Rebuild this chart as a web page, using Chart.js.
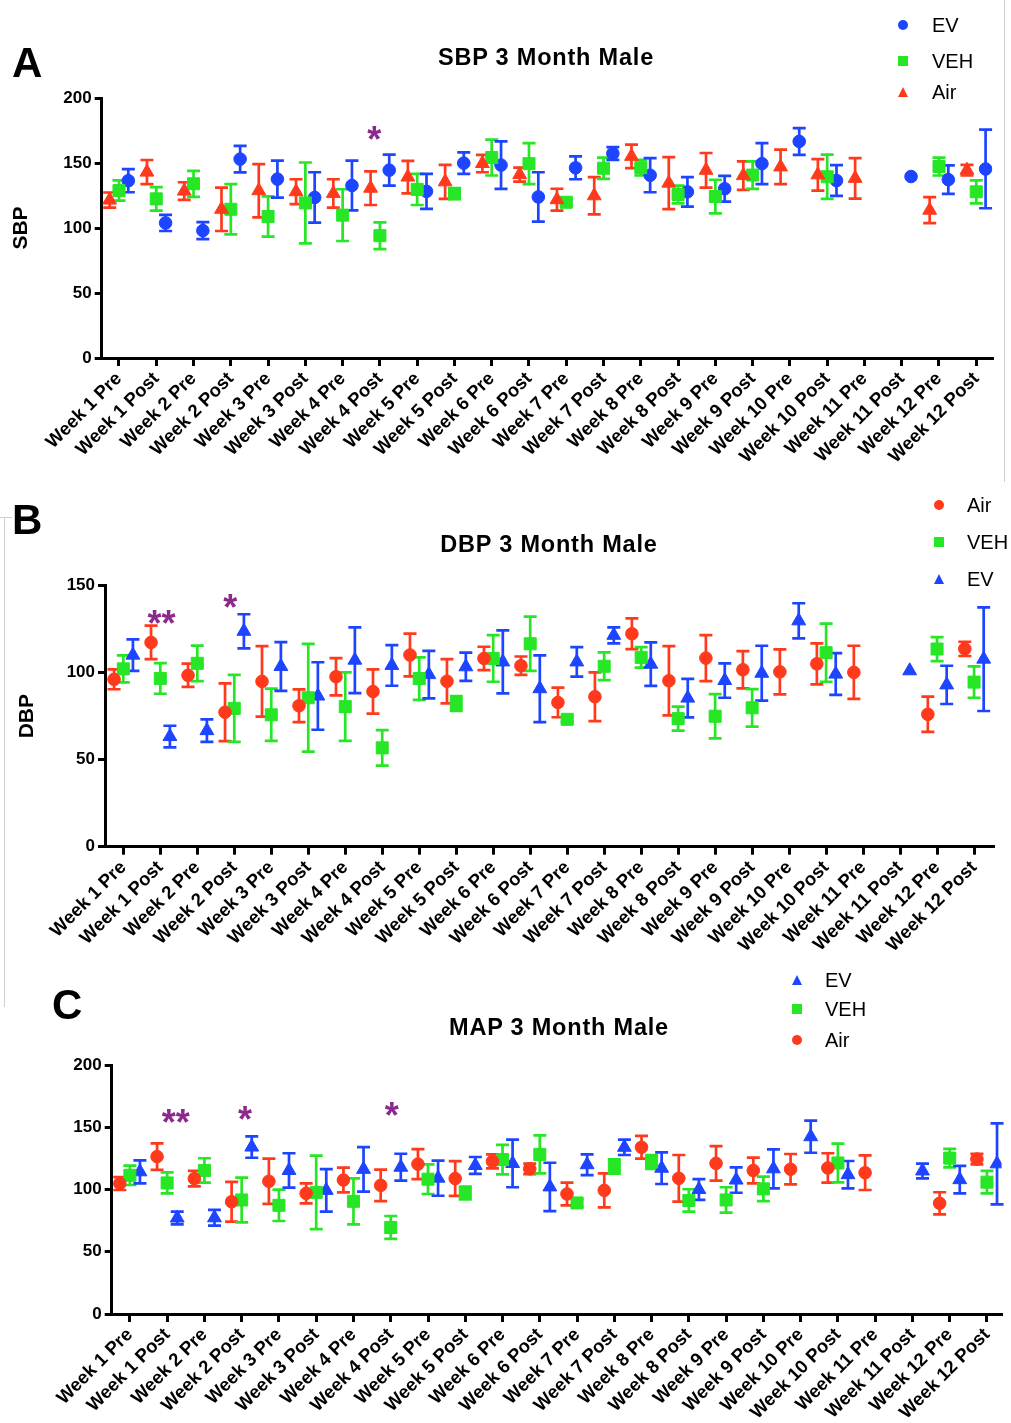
<!DOCTYPE html>
<html><head><meta charset="utf-8">
<script src="https://cdn.jsdelivr.net/npm/chart.js@4.4.1/dist/chart.umd.min.js"></script>
<style>
html,body{margin:0;padding:0;background:#fff;}
body{width:1011px;height:1423px;position:relative;overflow:hidden;font-family:"Liberation Sans",Arial,sans-serif;}
canvas{position:absolute;left:0;}
.t{position:absolute;color:#000;white-space:nowrap;}
.letter{font-weight:bold;font-size:42px;line-height:42px;}
.title{font-weight:bold;font-size:23.5px;line-height:24px;transform:translateX(-50%);letter-spacing:0.8px;}
.leg{font-size:20px;line-height:20px;}
.mk{position:absolute;}
.frame{position:absolute;background:#cfcfcf;}
</style></head><body>

<div class="frame" style="left:1004px;top:0;width:1px;height:482px"></div>
<div class="frame" style="left:4px;top:517px;width:1px;height:490px"></div>
<div class="frame" style="left:0;top:517px;width:12px;height:1px"></div>

<canvas id="cA" width="1011" height="480" style="top:0;width:1011px;height:480px"></canvas>
<canvas id="cB" width="1011" height="490" style="top:480px;width:1011px;height:490px"></canvas>
<canvas id="cC" width="1011" height="463" style="top:960px;width:1011px;height:463px"></canvas>

<div class="t letter" style="left:12px;top:42px">A</div>
<div class="t letter" style="left:12px;top:499px">B</div>
<div class="t letter" style="left:52px;top:984px">C</div>

<div class="t title" style="left:546px;top:45px">SBP 3 Month Male</div>
<div class="t title" style="left:549px;top:532px">DBP 3 Month Male</div>
<div class="t title" style="left:559px;top:1015px">MAP 3 Month Male</div>

<div id="legends"></div>

<script>
const weekLabels = ['Week 1 Pre','Week 1 Post','Week 2 Pre','Week 2 Post','Week 3 Pre','Week 3 Post',
  'Week 4 Pre','Week 4 Post','Week 5 Pre','Week 5 Post','Week 6 Pre','Week 6 Post',
  'Week 7 Pre','Week 7 Post','Week 8 Pre','Week 8 Post','Week 9 Pre','Week 9 Post',
  'Week 10 Pre','Week 10 Post','Week 11 Pre','Week 11 Post','Week 12 Pre','Week 12 Post'];

// ---- A: SBP ----
const sbpAirMean = [121.5,143,128.4,114.4,128.7,127.9,126.6,130.6,139.2,135.5,149.6,141.1,121.8,124.8,155.1,134.5,144.4,140.3,147,140.9,138.2,null,113.7,144.5];
const sbpAirSem  = [5.8,9.3,6.8,16.7,20.5,9.6,10.9,12.9,12.5,13.1,6.7,5.4,8.4,14.3,9,20,13.3,11,13.3,12.1,15.6,null,10,4.1];
const sbpVehMean = [128.8,122.4,134,114.4,108.8,119.3,109.9,94.1,129.7,126.4,154.2,149.5,119.8,146,146.4,125.8,124.2,140.7,null,139.4,null,null,147.3,127.8];
const sbpVehSem  = [7.8,9,10,19.3,15.5,31.1,19.9,10.3,12,4.3,13.8,15.8,2,8.2,6,6.8,12.9,10.6,null,17,null,null,6.9,8.8];
const sbpEvMean  = [136.4,103.9,98,153,137.6,123.5,132.7,144.5,128.2,149.9,148.4,123.9,146.3,157.3,140.6,127.8,130.2,149.5,166.6,136.5,null,139.6,137.2,145.4];
const sbpEvSem   = [8.9,6.2,6.5,10.2,14.2,19.4,19.1,11.9,13.5,8.3,18.3,19,8.8,4.9,13.1,11.3,9.9,15.8,10.3,11.8,null,0,11,30.2];
const sbpStars   = [{x:6.85, y:174, t:'*'}];

// ---- B: DBP ----
const dbpAirMean = [96.2,117.4,98.5,77.3,95,81,97.7,89.2,110.2,95.1,108.2,104,82.9,86.2,122.4,95.4,108.4,101.7,100.5,105.1,100.2,null,76.1,113.7];
const dbpAirSem  = [5.7,9.6,6.7,16.6,20.3,9.4,10.7,12.7,12.3,12.7,6.7,5.3,8.5,14,8.8,19.9,13.2,10.7,12.9,11.8,15.3,null,10.1,4.1];
const dbpVehMean = [102.2,96.7,105.4,79.5,75.8,85.6,80.5,56.8,96.6,82.3,108.2,116.6,73.2,103.7,108.8,73.6,75,79.8,null,111.5,null,null,113.6,94.6];
const dbpVehSem  = [7.8,8.8,10.2,19.2,15,31,19.7,10.2,12.2,4.3,13.4,15.6,1.5,8,5.9,6.9,12.7,10.8,null,16.7,null,null,6.9,9];
const dbpEvMean  = [110.1,63.3,66.7,123.8,103.6,86.6,107.2,104.2,98.9,103.4,106.2,90.8,106.2,121.5,104.9,85.4,95.5,99.7,129.8,99.2,null,101.1,93,107.8];
const dbpEvSem   = [9.1,6.2,6.5,9.8,14,19.4,18.9,11.7,13.7,8.1,18.1,19.2,8.5,4.6,12.5,11.1,9.9,15.8,10.1,12,null,0,11,29.8];
const dbpStars   = [{x:1.03, y:133, t:'**'}, {x:2.89, y:142.3, t:'*'}];

// ---- C: MAP ----
const mapAirMean = [104.8,126.4,108.7,90.2,106.6,96.9,107.6,103.3,120.4,108.8,122.6,116.6,96.4,99.3,133.9,109,121,115.3,116.3,117.3,113.5,null,88.9,124.4];
const mapAirSem  = [5.2,10.7,6.2,16,18.2,8,9.9,12.6,12,14,5.6,4.2,9.1,13.7,9.1,18.7,13.9,10.3,12.2,11.8,13.9,null,8.9,4.2];
const mapVehMean = [111.4,105.3,115.3,91.6,87.3,97.7,90.5,69.5,108.3,97.2,124,128.2,89.2,118.5,122.1,91.2,91.6,100.5,null,121.3,null,null,125.2,105.9];
const mapVehSem  = [7.8,8.4,9.8,18,12.6,29.5,18.5,9.2,11.9,5.1,11.8,15.3,3.2,5.8,5.6,9,10.2,9.8,null,15.5,null,null,7.4,9];
const mapEvMean  = [114.2,77.1,77.3,134.1,115.3,99.3,116.2,117.9,109.1,119.3,120.9,102.1,119.9,133.9,117.1,100,107.6,116.6,142.4,111.9,null,114.9,107.9,120.6];
const mapEvSem   = [9.2,5.1,6.3,8.6,13.8,17.1,17.9,10.8,14.1,6.8,19.1,19.4,8.3,6.2,12.7,8.4,10.2,15.7,12.9,11,null,5.9,11,32.5];
const mapStars   = [{x:1.23, y:160, t:'**'}, {x:3.09, y:162.5, t:'*'}, {x:7.03, y:165.7, t:'*'}];

const yTicks = [0,50,100,150,200];

const BLUE = '#1d44ff', GREEN = '#26e626', RED = '#ff3a1c', PURPLE = '#8c2a8c';
const FONT = '"Liberation Sans", Arial, sans-serif';
const STAR_SIZE = 36;

const errorBarPlugin = {
  id: 'errbars',
  beforeDatasetsDraw(chart) {
    const ctx = chart.ctx, xs = chart.scales.x, ys = chart.scales.y;
    chart.data.datasets.forEach(ds => {
      ctx.save();
      ctx.strokeStyle = ds.borderColor; ctx.lineWidth = 2.7; ctx.lineCap = 'butt';
      ds.data.forEach(p => {
        if (!p.e) return;
        const x = xs.getPixelForValue(p.x);
        const y1 = ys.getPixelForValue(p.y + p.e), y2 = ys.getPixelForValue(p.y - p.e);
        ctx.beginPath();
        ctx.moveTo(x, y1); ctx.lineTo(x, y2);
        ctx.moveTo(x - 6.5, y1); ctx.lineTo(x + 6.5, y1);
        ctx.moveTo(x - 6.5, y2); ctx.lineTo(x + 6.5, y2);
        ctx.stroke();
      });
      ctx.restore();
    });
  }
};
const starPlugin = {
  id: 'stars',
  afterDatasetsDraw(chart) {
    const stars = chart.options.plugins.stars.list || [];
    const ctx = chart.ctx, xs = chart.scales.x, ys = chart.scales.y;
    ctx.save();
    ctx.fillStyle = PURPLE; ctx.font = 'bold ' + STAR_SIZE + 'px ' + FONT;
    ctx.textAlign = 'center'; ctx.textBaseline = 'alphabetic';
    stars.forEach(s => {
      ctx.fillText(s.t, xs.getPixelForValue(s.x), ys.getPixelForValue(s.y) + 0.57 * STAR_SIZE);
    });
    ctx.restore();
  }
};

function buildPoints(mean, sem, off) {
  const pts = [];
  mean.forEach((v, i) => { if (v !== null) pts.push({x: i + off, y: v, e: sem[i]}); });
  return pts;
}

function makeChart(p) {
  const H = p.height;
  const area = {left: p.area.left, right: p.area.right, top: p.area.top - p.top, bottom: p.area.bottom - p.top};
  const datasets = p.series.map(s => ({
    label: s.label,
    data: buildPoints(s.mean, s.sem, s.off),
    borderColor: s.color, backgroundColor: s.color,
    pointBackgroundColor: s.color, pointBorderColor: s.color,
    pointStyle: s.style, pointRadius: s.r, pointBorderWidth: 1,
    showLine: false
  }));
  new Chart(document.getElementById(p.id), {
    type: 'scatter',
    data: {datasets},
    plugins: [errorBarPlugin, starPlugin],
    options: {
      responsive: false, animation: false, events: [],
      layout: {padding: {left: 0, top: area.top, right: 1011 - area.right, bottom: 0}},
      plugins: {legend: {display: false}, tooltip: {enabled: false}, title: {display: false}, stars: {list: p.stars}},
      scales: {
        x: {
          type: 'linear', min: p.xmin, max: p.xmax,
          afterBuildTicks: s => { s.ticks = weekLabels.map((_, i) => ({value: i})); },
          afterFit: s => { s.height = H - area.bottom; },
          ticks: {autoSkip: false, minRotation: 45, maxRotation: 45, padding: 2, color: '#000',
            font: {family: FONT, size: 18.5, weight: 'bold'},
            callback: v => weekLabels[Math.round(v)]},
          grid: {display: true, drawOnChartArea: false, drawTicks: true, tickLength: 8, tickWidth: 3, tickColor: '#000', color: '#000', lineWidth: 3},
          border: {display: true, color: '#000', width: 3}
        },
        y: {
          type: 'linear', min: 0, max: p.ymax,
          afterBuildTicks: s => { s.ticks = yTicks.filter(v => v <= p.ymax).map(v => ({value: v})); },
          afterFit: s => { s.width = area.left; },
          ticks: {padding: 3, color: '#000', font: {family: FONT, size: 17, weight: 'bold'}},
          grid: {display: true, drawOnChartArea: false, drawTicks: true, tickLength: 7, tickWidth: 3, tickColor: '#000', color: '#000', lineWidth: 3},
          border: {display: true, color: '#000', width: 3},
          title: {display: !!p.ytitle, text: p.ytitle || '', color: '#000', font: {family: FONT, size: 21, weight: 'bold'}, padding: {top: p.ytitlePad || 8, bottom: 0}}
        }
      }
    }
  });
}

const panels = [
  {id: 'cA', top: 0, height: 480, area: {left: 101.7, right: 992.3, top: 98, bottom: 358},
   xmin: -0.464, xmax: 23.43, ymax: 200, ytitle: 'SBP', ytitlePad: 9, stars: sbpStars,
   series: [
     {label: 'Air', mean: sbpAirMean, sem: sbpAirSem, color: RED, style: 'triangle', r: 8, off: -0.25},
     {label: 'VEH', mean: sbpVehMean, sem: sbpVehSem, color: GREEN, style: 'rect', r: 8.5, off: 0},
     {label: 'EV', mean: sbpEvMean, sem: sbpEvSem, color: BLUE, style: 'circle', r: 6.3, off: 0.25}
   ]},
  {id: 'cB', top: 480, height: 490, area: {left: 105, right: 993.3, top: 585.7, bottom: 846.7},
   xmin: -0.495, xmax: 23.52, ymax: 150, ytitle: 'DBP', ytitlePad: 15, stars: dbpStars,
   series: [
     {label: 'Air', mean: dbpAirMean, sem: dbpAirSem, color: RED, style: 'circle', r: 6.3, off: -0.25},
     {label: 'VEH', mean: dbpVehMean, sem: dbpVehSem, color: GREEN, style: 'rect', r: 8.5, off: 0},
     {label: 'EV', mean: dbpEvMean, sem: dbpEvSem, color: BLUE, style: 'triangle', r: 8, off: 0.26}
   ]},
  {id: 'cC', top: 960, height: 463, area: {left: 111.7, right: 1006.7, top: 1065, bottom: 1314},
   xmin: -0.488, xmax: 23.39, ymax: 200, ytitle: '', stars: mapStars,
   series: [
     {label: 'Air', mean: mapAirMean, sem: mapAirSem, color: RED, style: 'circle', r: 6.3, off: -0.27},
     {label: 'VEH', mean: mapVehMean, sem: mapVehSem, color: GREEN, style: 'rect', r: 8.5, off: 0},
     {label: 'EV', mean: mapEvMean, sem: mapEvSem, color: BLUE, style: 'triangle', r: 8, off: 0.27}
   ]}
];
panels.forEach(makeChart);

// HTML legends
const legendDefs = [
  {mx: 903, tx: 932, items: [{y: 25, t: 'EV', c: BLUE, s: 'circle'}, {y: 61, t: 'VEH', c: GREEN, s: 'rect'}, {y: 92, t: 'Air', c: RED, s: 'triangle'}]},
  {mx: 939, tx: 967, items: [{y: 505, t: 'Air', c: RED, s: 'circle'}, {y: 542, t: 'VEH', c: GREEN, s: 'rect'}, {y: 579, t: 'EV', c: BLUE, s: 'triangle'}]},
  {mx: 797, tx: 825, items: [{y: 980, t: 'EV', c: BLUE, s: 'triangle'}, {y: 1009, t: 'VEH', c: GREEN, s: 'rect'}, {y: 1040, t: 'Air', c: RED, s: 'circle'}]}
];
const host = document.getElementById('legends');
legendDefs.forEach(L => L.items.forEach(it => {
  const m = document.createElement('div');
  m.className = 'mk';
  if (it.s === 'circle') {
    m.style.cssText = `left:${L.mx-5}px;top:${it.y-5}px;width:10px;height:10px;border-radius:50%;background:${it.c}`;
  } else if (it.s === 'rect') {
    m.style.cssText = `left:${L.mx-5}px;top:${it.y-5}px;width:10px;height:10px;background:${it.c}`;
  } else {
    m.style.cssText = `left:${L.mx-5}px;top:${it.y-5}px;width:0;height:0;border-left:5px solid transparent;border-right:5px solid transparent;border-bottom:10px solid ${it.c}`;
  }
  host.appendChild(m);
  const t = document.createElement('div');
  t.className = 't leg';
  t.style.left = L.tx + 'px'; t.style.top = (it.y - 10) + 'px';
  t.textContent = it.t;
  host.appendChild(t);
}));
</script>
</body></html>
